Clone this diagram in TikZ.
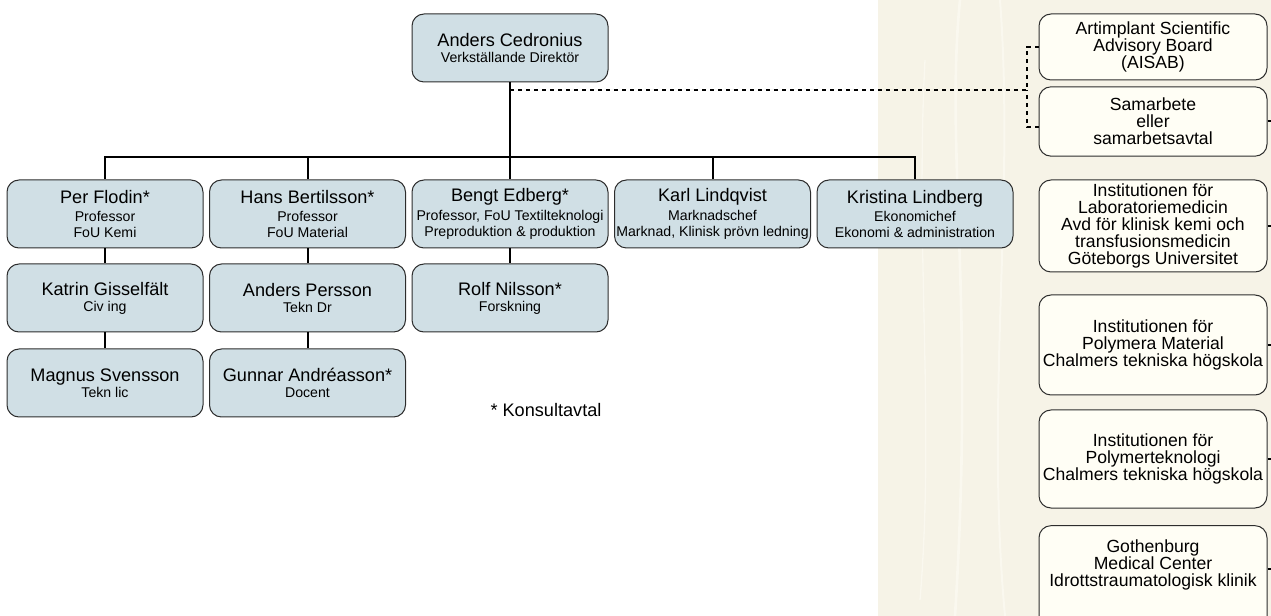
\documentclass[tikz,border=0pt]{standalone}
\usepackage{fontspec}
\setmainfont{Liberation Sans}
\usetikzlibrary{calc}

\definecolor{boxblue}{RGB}{208,223,229}
\definecolor{bandbeige}{RGB}{246,243,231}
\definecolor{bandlight}{RGB}{250,248,239}
\definecolor{boxcream}{RGB}{255,254,245}
\definecolor{edgegray}{RGB}{45,45,45}

\newcommand{\namefont}{\fontsize{13.6}{15}\selectfont}
\newcommand{\rolefont}{\fontsize{10.6}{12}\selectfont}
\newcommand{\partnerfont}{\fontsize{13.2}{12.8}\selectfont}

\tikzset{every picture/.style={line width=0.75pt},
  staff/.style={draw=edgegray, fill=boxblue, rounded corners=9pt, minimum width=147pt, minimum height=51pt, align=center, inner sep=1pt, font=\rolefont},
  partner/.style={draw=edgegray, fill=boxcream, rounded corners=9pt, minimum width=171pt, align=center, inner sep=1pt, font=\partnerfont},
  conn/.style={line width=1.5pt},
  dotline/.style={line width=1.5pt, dash pattern=on 3pt off 3pt}}

\begin{document}
\begin{tikzpicture}[x=0.75pt,y=0.75pt,yscale=-1,xscale=1]
\useasboundingbox (0,0) rectangle (1271,616);
\clip (0,0) rectangle (1271,616);

%Shape: Rectangle [band]
\fill [bandbeige] (878,0) rectangle (1271,616);
%Curve Lines [band texture]
\draw [bandlight, line width=2pt] (960,0) .. controls (945,150) and (975,300) .. (955,616);
\draw [bandlight, line width=1.5pt] (1000,0) .. controls (1015,200) and (985,400) .. (1005,616);
\draw [bandlight, line width=1pt] (925,60) .. controls (915,250) and (935,420) .. (920,600);

% Staff Nodes
\node [staff] (ceo) at (510,48) {{\namefont Anders Cedronius}\\Verkställande Direktör};
\node [staff] (per) at (105,214) {{\namefont Per Flodin*}\\[2pt]Professor\\FoU Kemi};
\node [staff] (hans) at (307.5,214) {{\namefont Hans Bertilsson*}\\[2pt]Professor\\FoU Material};
\node [staff] (bengt) at (510,214) {{\namefont Bengt Edberg*}\\[2pt]Professor, FoU Textilteknologi\\Preproduktion \& produktion};
\node [staff] (karl) at (712.5,214) {{\namefont Karl Lindqvist}\\[2pt]Marknadschef\\Marknad, Klinisk prövn ledning};
\node [staff] (kristina) at (915,214) {{\namefont Kristina Lindberg}\\[2pt]Ekonomichef\\Ekonomi \& administration};
\node [staff] (katrin) at (105,298) {{\namefont Katrin Gisselfält}\\Civ ing};
\node [staff] (persson) at (307.5,298) {{\namefont Anders Persson}\\Tekn Dr};
\node [staff] (rolf) at (510,298) {{\namefont Rolf Nilsson*}\\Forskning};
\node [staff] (magnus) at (105,383) {{\namefont Magnus Svensson}\\Tekn lic};
\node [staff] (gunnar) at (307.5,383) {{\namefont Gunnar Andréasson*}\\Docent};

% Text Node
\node [font=\namefont] (note) at (546,410) {* Konsultavtal};

% Partner Nodes
\node [partner, minimum height=49.5pt] (aisab) at (1153,47) {Artimplant Scientific\\Advisory Board\\(AISAB)};
\node [partner, minimum height=52pt] (samar) at (1153,121.5) {Samarbete\\eller\\samarbetsavtal};
\node [partner, minimum height=69pt] (lab) at (1153,226) {Institutionen för\\Laboratoriemedicin\\Avd för klinisk kemi och\\transfusionsmedicin\\Göteborgs Universitet};
\node [partner, minimum height=75pt] (polymat) at (1153,345) {Institutionen för\\Polymera Material\\Chalmers tekniska högskola};
\node [partner, minimum height=73.5pt] (polytek) at (1153,459) {Institutionen för\\Polymerteknologi\\Chalmers tekniska högskola};
\node [partner, minimum height=80pt, text depth=24pt] (gmc) at (1153,579) {Gothenburg\\Medical Center\\Idrottstraumatologisk klinik};

% Connectors
\coordinate (bar) at (510,157);
\coordinate (dotj) at (510,90);
\coordinate (dotv) at (1027,90);
\coordinate (rim) at (1275,0);
\draw [conn] (ceo.south) -- (bar);
\foreach \n in {per,hans,bengt,karl,kristina}
  \draw [conn] (bar) -| (\n.north);
\draw [conn] (per) -- (katrin) -- (magnus);
\draw [conn] (hans) -- (persson) -- (gunnar);
\draw [conn] (bengt) -- (rolf);
\draw [dotline] (dotj) -- (dotv);
\draw [dotline] (aisab.west) -| (dotv);
\draw [dotline] ($(samar.west)+(0,6)$) -| (dotv);
\foreach \n in {samar,lab,polymat,polytek}
  \draw [conn] (\n.east) -- (\n.east -| rim);
\draw [conn] ($(gmc.east)+(0,-10)$) -- ($(gmc.east -| rim)+(0,-10)$);

\end{tikzpicture}
\end{document}
